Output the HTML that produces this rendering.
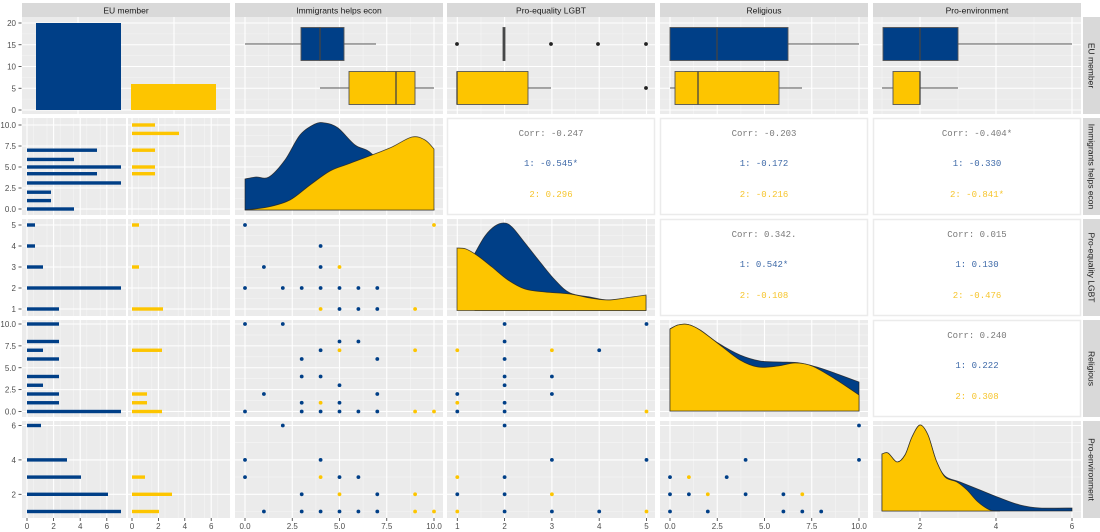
<!DOCTYPE html>
<html><head><meta charset="utf-8">
<style>
html,body{margin:0;padding:0;background:#fff;}
svg{display:block;font-family:"Liberation Sans",sans-serif;}
</style></head>
<body>
<svg id="s" width="1100" height="532" xmlns="http://www.w3.org/2000/svg"></svg>
<script>
var S=document.getElementById('s');var out='';
var B='#003f87',Y='#fdc500';
var CX=[22,235,447,660,873],W=208,RY=[17,118,219,320,421],H=97;
function rect(x,y,w,h,f,extra){out+='<rect x="'+x+'" y="'+y+'" width="'+w+'" height="'+h+'" fill="'+f+'" '+(extra||'')+'/>';}
function line(x1,y1,x2,y2,c,w){out+='<line x1="'+x1+'" y1="'+y1+'" x2="'+x2+'" y2="'+y2+'" stroke="'+c+'" stroke-width="'+w+'"/>';}
function text(x,y,t,opt){out+='<text x="'+x+'" y="'+y+'" '+(opt||'')+'>'+t+'</text>';}
// scales
var sx=[null,function(v){return 245+18.9*v},function(v){return 457.3+47.3*(v-1)},function(v){return 670+18.9*v},function(v){return 882+38*(v-1)}];
var sy=[function(v){return 110-4.35*v},function(v){return 209-8.4*v},function(v){return 309-21*(v-1)},function(v){return 411.5-8.75*v},function(v){return 511.5-17.2*(v-1)}];
var xt=[null,[0,2.5,5,7.5,10],[1,2,3,4,5],[0,2.5,5,7.5,10],[2,4,6]];
var yt=[[0,5,10,15,20],[0,2.5,5,7.5,10],[1,2,3,4,5],[0,2.5,5,7.5,10],[2,4,6]];
var xl=[null,['0.0','2.5','5.0','7.5','10.0'],['1','2','3','4','5'],['0.0','2.5','5.0','7.5','10.0'],['2','4','6']];
var yl=[['0','5','10','15','20'],['0.0','2.5','5.0','7.5','10.0'],['1','2','3','4','5'],['0.0','2.5','5.0','7.5','10.0'],['2','4','6']];
var corr={ '1,2':['Corr: -0.247','1: -0.545*','2: 0.296'],'1,3':['Corr: -0.203','1: -0.172','2: -0.216'],'1,4':['Corr: -0.404*','1: -0.330','2: -0.841*'],
 '2,3':['Corr: 0.342.','1: 0.542*','2: -0.108'],'2,4':['Corr: 0.015','1: 0.130','2: -0.476'],'3,4':['Corr: 0.240','1: 0.222','2: 0.308']};
function grid(r,c){
 var x0=CX[c],y0=RY[r];
 var xs=[],ys=[];
 if(c==0){ if(r==0){xs=[78,174];} }
 else xs=xt[c].map(sx[c]);
 ys=yt[r].map(sy[r]);
 // minor
 function mids(a){var m=[];for(var i=0;i<a.length-1;i++)m.push((a[i]+a[i+1])/2);if(a.length>1){m.push(a[0]-(a[1]-a[0])/2);m.push(a[a.length-1]+(a[1]-a[0])/2);}return m;}
 if(c>0){mids(xs).forEach(function(x){if(x>x0&&x<x0+W)line(x,y0,x,y0+H,'#f5f5f5',0.6);});}
 mids(ys).forEach(function(y){if(y>y0&&y<y0+H)line(x0,y,x0+W,y,'#f5f5f5',0.6);});
 xs.forEach(function(x){line(x,y0,x,y0+H,'#fff',1.1);});
 ys.forEach(function(y){line(x0,y,x0+W,y,'#fff',1.1);});
}
// catmull-rom
function spline(p){var d='M'+p[0][0]+','+p[0][1];for(var i=0;i<p.length-1;i++){var p0=p[i-1]||p[i],p1=p[i],p2=p[i+1],p3=p[i+2]||p2;
 d+=' C'+(p1[0]+(p2[0]-p0[0])/6)+','+(p1[1]+(p2[1]-p0[1])/6)+' '+(p2[0]-(p3[0]-p1[0])/6)+','+(p2[1]-(p3[1]-p1[1])/6)+' '+p2[0]+','+p2[1];}return d;}
function dens(p,base,col){var d=spline(p)+' L'+p[p.length-1][0]+','+base+' L'+p[0][0]+','+base+' Z';out+='<path d="'+d+'" fill="'+col+'" stroke="#222" stroke-width="0.8" stroke-opacity="0.8"/>';}
function pt(x,y,col){out+='<circle cx="'+x+'" cy="'+y+'" r="1.9" fill="'+col+'"/>';}
for(var r=0;r<5;r++)for(var c=0;c<5;c++){
 var x0=CX[c],y0=RY[r];
 if(r<c && r>0 || (r>=1&&c>r)){ }
 var key=r+','+c;
 if(corr[key]){rect(x0+0.5,y0+0.5,W-1,H-1,'#fff','stroke="#ebebeb" stroke-width="1.5"');
   var cx=x0+W/2;var t=corr[key];
   text(cx,y0+18,t[0],'font-family="Liberation Mono,monospace" font-size="9" fill="#7a7a7a" text-anchor="middle"');
   text(cx,y0+48,t[1],'font-family="Liberation Mono,monospace" font-size="9" fill="#3f6aa8" text-anchor="middle"');
   text(cx,y0+79,t[2],'font-family="Liberation Mono,monospace" font-size="9" fill="#f6c52e" text-anchor="middle"');
   continue;}
 if(c==0&&r>0){ // two subpanels
   rect(22,y0,104,H,'#ebebeb');rect(128,y0,102,H,'#ebebeb');
   [[27,13.3,22,126],[132,13.2,128,230]].forEach(function(s){
     for(var k=-0.5;k<=7.5;k+=1){var x=s[0]+s[1]*k;if(x>s[2]&&x<s[3])line(x,y0,x,y0+H,'#f5f5f5',0.6);}
     for(var k=0;k<=7;k+=2){line(s[0]+s[1]*k,y0,s[0]+s[1]*k,y0+H,'#fff',1.1);}
     var ys=yt[r].map(sy[r]);ys.forEach(function(y){line(s[2],y,s[3],y,'#fff',1.1);});
   });
   continue;}
 rect(x0,y0,W,H,'#ebebeb');grid(r,c);
}
// row1 col1 bars
rect(36,23,85,87,B);rect(131,84,85,26,Y);
// col1 histogram bars
function hb(r,list,col,x0){list.forEach(function(a){var y=sy[r](a[0]);rect(x0,y-1.7,a[1]-x0,3.4,col);});}
hb(1,[[0,74],[1,51],[2,51],[3.1,121],[4.2,97],[5,121],[5.9,74],[7,97]],B,27);
hb(1,[[4.2,155],[5,155],[7,155],[9,179],[10,155]],Y,132);
hb(2,[[5,35],[4,35],[3,43],[2,121],[1,59]],B,27);
hb(2,[[5,139],[3,139],[1,163]],Y,132);
hb(3,[[10,59],[8,59],[7,43],[6,59],[4,59],[3,43],[2,59],[1,59],[0,121]],B,27);
hb(3,[[7,162],[2,147],[1,147],[0,162]],Y,132);
hb(4,[[6,41],[4,67],[3,81],[2,108],[1,121]],B,27);
hb(4,[[3,145],[2,172],[1,159]],Y,132);
// boxplots
function box(x1,x2,med,w1,w2,yc,col){line(w1,yc,w2,yc,'#555',0.9);rect(x1,yc-16.5,x2-x1,33,col,'stroke="#555" stroke-width="0.9"');line(med,yc-16.5,med,yc+16.5,'#444',1.3);}
box(301,344,320,245,376,44,B);box(349,415,396,320,434,88,Y);
box(503,505,504,504,504,44,B);line(504,28,504,61,'#444',1.3);
[457,551,598,646].forEach(function(x){pt(x,44,'#222');});
box(457,528,457,457,551,88,Y);pt(646,88,'#222');
box(670,788,717,670,859,44,B);box(675,779,698,670,802,88,Y);
box(883,958,920,883,1072,44,B);box(893,920,920,882,958,88,Y);
// densities
dens([[245,179],[256,177],[269,177],[285,160],[300,135],[315,124],[325,123],[338,128],[355,145],[372,154],[395,185],[420,205],[434,209]],210,B);
dens([[245,210],[268,207],[290,200],[310,185],[330,171],[348,164],[372,155],[392,147],[412,137],[425,140],[434,149]],210,Y);
dens([[475,253],[485,236],[495,226],[504,223],[512,227],[525,243],[540,262],[555,280],[570,293],[590,297],[610,300],[646,296]],310.5,B);
dens([[457,248],[466,249],[478,256],[492,267],[508,280],[525,289],[545,292],[570,294],[590,298],[608,300],[625,298],[646,295]],310.5,Y);
dens([[670,329],[678,325],[688,324.5],[700,330],[718,343],[740,355],[760,361],[780,362],[800,363],[820,368],[840,375],[859,382]],411,B);
dens([[670,329],[678,325],[688,324.5],[700,330],[720,345],[740,360],[758,367],[778,366],[795,363],[812,366],[835,379],[859,395]],411,Y);
dens([[882,454],[888,453],[897,462],[905,455],[912,437],[920,425],[928,435],[936,460],[945,476],[960,482],[980,490],[1000,498],[1020,505],[1040,508],[1072,508]],511,B);
dens([[882,454],[888,453],[897,462],[905,455],[912,437],[920,425],[928,435],[936,460],[945,477],[957,482],[967,490],[978,502],[990,510],[1000,511]],511,Y);
// scatter
function sc(r,c,list,col){list.forEach(function(a){pt(sx[c](a[0]),sy[r](a[1]),col);});}
sc(2,1,[[0,5],[4,4],[1,3],[4,3],[0,2],[2,2],[3,2],[4,2],[5,2],[6,2],[7,2],[5,1],[6,1],[7,1]],B);
sc(2,1,[[10,5],[5,3],[4,1],[9,1]],Y);
sc(3,1,[[0,10],[2,10],[5,8],[6,8],[4,7],[3,6],[7,6],[3,4],[4,4],[5,3],[1,2],[7,2],[3,1],[5,1],[0,0],[3,0],[4,0],[5,0],[6,0],[7,0]],B);
sc(3,1,[[5,7],[9,7],[4,1],[9,0],[10,0]],Y);
sc(4,1,[[2,6],[0,4],[4,4],[0,3],[5,3],[6,3],[3,2],[7,2],[1,1],[3,1],[4,1],[5,1],[6,1],[7,1]],B);
sc(4,1,[[4,3],[5,2],[9,2],[9,1],[10,1]],Y);
sc(3,2,[[2,10],[5,10],[2,8],[4,7],[2,6],[2,4],[3,4],[2,3],[1,2],[3,2],[2,1],[1,0],[2,0]],B);
sc(3,2,[[1,7],[3,7],[1,1],[5,0]],Y);
sc(4,2,[[2,6],[3,4],[5,4],[2,3],[1,2],[2,2],[2,1],[3,1],[4,1]],B);
sc(4,2,[[1,3],[3,2],[1,1],[5,1]],Y);
sc(4,3,[[10,6],[4,4],[10,4],[0,3],[3,3],[0,2],[1,2],[4,2],[6,2],[0,1],[2,1],[6,1],[7,1],[8,1]],B);
sc(4,3,[[1,3],[2,2],[7,2]],Y);
// strips
var names=['EU member','Immigrants helps econ','Pro-equality LGBT','Religious','Pro-environment'];
for(var c=0;c<5;c++){rect(CX[c],3,W,14,'#d9d9d9');text(CX[c]+W/2,13.5,names[c],'font-size="8.5" fill="#1a1a1a" text-anchor="middle"');}
for(var r=0;r<5;r++){rect(1083,RY[r],17,H,'#d9d9d9');var cy=RY[r]+H/2;text(0,0,names[r],'font-size="8.5" fill="#1a1a1a" text-anchor="middle" transform="translate(1088.5,'+cy+') rotate(90)"');}
// axis labels
for(var r=0;r<5;r++){yt[r].forEach(function(v,i){var y=sy[r](v);line(18.5,y,21.5,y,'#333',0.8);text(16,y+3,yl[r][i],'font-size="8" fill="#4d4d4d" text-anchor="end"');});}
for(var c=1;c<5;c++){xt[c].forEach(function(v,i){var x=sx[c](v);line(x,518,x,521,'#333',0.8);text(x,529,xl[c][i],'font-size="8" fill="#4d4d4d" text-anchor="middle"');});}
[27,132].forEach(function(b,j){var u=j?13.2:13.3;[0,2,4,6].forEach(function(v){var x=b+u*v;line(x,518,x,521,'#333',0.8);text(x,529,''+v,'font-size="8" fill="#4d4d4d" text-anchor="middle"');});});
S.innerHTML=out;
</script>
</body></html>
